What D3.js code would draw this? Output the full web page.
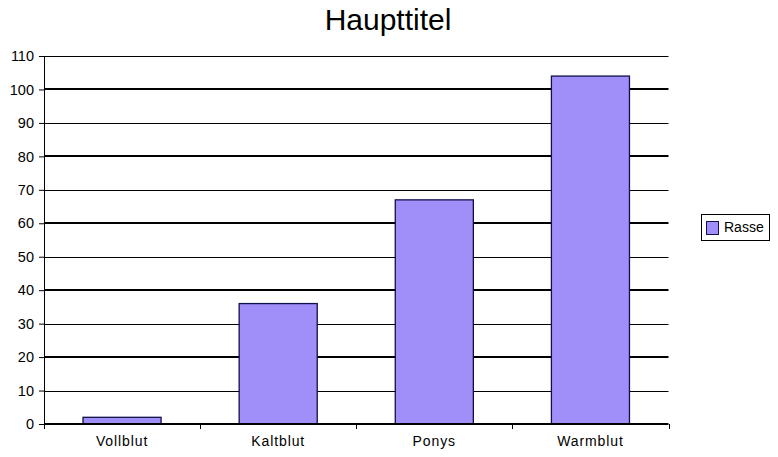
<!DOCTYPE html>
<html>
<head>
<meta charset="utf-8">
<script src="https://cdn.jsdelivr.net/npm/d3@7"></script>
<style>
  html, body { margin: 0; padding: 0; background: #fff; }
  text { font-family: Arial, "Liberation Sans", sans-serif; fill: #000; }
</style>
</head>
<body>
<svg id="chart" width="778" height="457"></svg>
<script>
const title = "Haupttitel";
const categories = ["Vollblut", "Kaltblut", "Ponys", "Warmblut"];
const seriesName = "Rasse";
const values = [2, 36, 67, 104];
const yTicks = [0, 10, 20, 30, 40, 50, 60, 70, 80, 90, 100, 110];

const svg = d3.select("#chart");
const plot = { left: 44, right: 668.5, top: 56, bottom: 424 };

const x = d3.scaleBand().domain(categories).range([plot.left, plot.right]).paddingInner(0.5).paddingOuter(0.25);
const xb = d3.scaleBand().domain(categories).range([plot.left, plot.right]);
const y = d3.scaleLinear().domain([0, 110]).range([plot.bottom, plot.top]);

// title
svg.append("text").attr("x", 388).attr("y", 29.5).attr("text-anchor", "middle")
  .attr("font-size", 30).text(title);

// gridlines
svg.append("g").selectAll("line").data(yTicks.filter(d => d > 0)).join("line")
  .attr("x1", plot.left).attr("x2", plot.right)
  .attr("y1", d => Math.round(y(d)) + (d % 20 === 0 ? 0 : 0.5))
  .attr("y2", d => Math.round(y(d)) + (d % 20 === 0 ? 0 : 0.5))
  .attr("stroke", "#000").attr("stroke-width", d => d % 20 === 0 ? 2 : 1);

// bars
svg.append("g").selectAll("rect").data(values).join("rect")
  .attr("x", (d, i) => x(categories[i]))
  .attr("width", x.bandwidth())
  .attr("y", d => y(d))
  .attr("height", d => y(0) - y(d))
  .attr("fill", "#a08ef9").attr("stroke", "#10104a").attr("stroke-width", 1.3);

// y axis
const yAxis = d3.axisLeft(y).tickValues(yTicks).tickSize(5).tickPadding(5);
const gy = svg.append("g").attr("transform", `translate(${plot.left},0)`).call(yAxis);
gy.select(".domain").attr("stroke", "#000").attr("d", `M0.5,${plot.top}V${plot.bottom + 5}`);
gy.selectAll(".tick line").attr("stroke", "#000");
gy.selectAll(".tick text").attr("font-size", 14.5).attr("font-family", "Arial, 'Liberation Sans', sans-serif").attr("fill", "#000");

// x axis line (thick)
svg.append("line").attr("x1", plot.left).attr("x2", plot.right)
  .attr("y1", y(0)).attr("y2", y(0)).attr("stroke", "#000").attr("stroke-width", 2);

// x boundary ticks
const bounds = categories.map(c => xb(c)).concat([plot.right]);
svg.append("g").selectAll("line").data(bounds.slice(1)).join("line")
  .attr("x1", d => Math.round(d) + 0.5).attr("x2", d => Math.round(d) + 0.5)
  .attr("y1", plot.bottom).attr("y2", plot.bottom + 5).attr("stroke", "#000");

// x labels
svg.append("g").selectAll("text").data(categories).join("text")
  .attr("x", d => xb(d) + xb.bandwidth() / 2).attr("y", 446)
  .attr("text-anchor", "middle").attr("font-size", 14).attr("letter-spacing", 0.9)
  .text(d => d);

// legend
const lg = svg.append("g");
lg.append("rect").attr("x", 701.5).attr("y", 214.5).attr("width", 68).attr("height", 26)
  .attr("fill", "#fff").attr("stroke", "#000");
lg.append("rect").attr("x", 706.5).attr("y", 221.5).attr("width", 12).attr("height", 13)
  .attr("fill", "#a08ef9").attr("stroke", "#10104a");
lg.append("text").attr("x", 724).attr("y", 231.5).attr("font-size", 14).text(seriesName);
</script>
</body>
</html>
